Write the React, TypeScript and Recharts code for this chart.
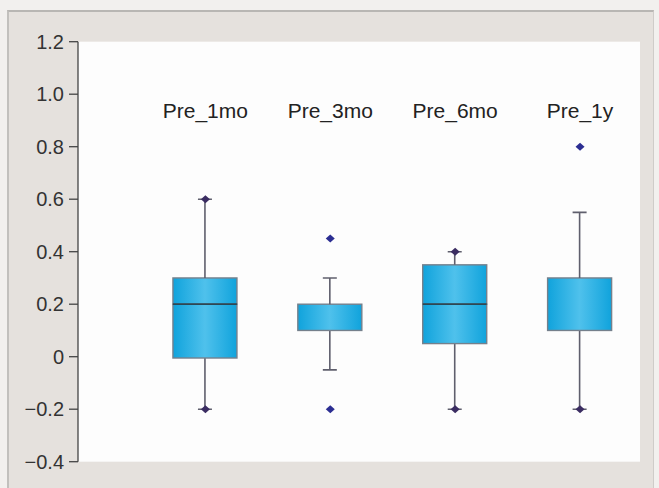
import React from 'react';
import { ComposedChart, Bar, Scatter, XAxis, YAxis, CartesianGrid } from 'recharts';

const categories = ['Pre_1mo', 'Pre_3mo', 'Pre_6mo', 'Pre_1y'];
const positions = [1, 2, 3, 4];
const whiskerLow = [-0.2, -0.05, -0.2, -0.2];
const quartile1 = [-0.005, 0.1, 0.05, 0.1];
const medians = [0.2, 0.2, 0.2, 0.3];
const quartile3 = [0.3, 0.2, 0.35, 0.3];
const whiskerHigh = [0.6, 0.3, 0.4, 0.55];
const endPoints = [[0.6, -0.2], [], [0.4, -0.2], [-0.2]];
const outliers = [[], [0.45, -0.2], [], [0.8]];
const yTicks = [-0.4, -0.2, 0, 0.2, 0.4, 0.6, 0.8, 1.0, 1.2];

// stacked segments: transparent base, lower whisker, lower box, upper box, upper whisker
const boxData = categories.map((name, i) => ({
  name,
  pos: positions[i],
  base: whiskerLow[i],
  lowWhisker: quartile1[i] - whiskerLow[i],
  lowBox: medians[i] - quartile1[i],
  highBox: quartile3[i] - medians[i],
  highWhisker: whiskerHigh[i] - quartile3[i],
}));

const endPointData = endPoints.flatMap((vals, i) => vals.map((value) => ({ pos: positions[i], value })));
const outlierData = outliers.flatMap((vals, i) => vals.map((value) => ({ pos: positions[i], value })));

const FONT = '"Liberation Sans", Arial, sans-serif';
const WHISKER = '#5f5f6d';
const BOX_STROKE = '#75808c';
const MEDIAN = '#2d4754';

const norm = (p: any) => {
  const top = Math.min(p.y, p.y + p.height);
  return { top, h: Math.abs(p.height), cx: p.x + p.width / 2 };
};

const LowWhisker = (p: any) => {
  const { top, h, cx } = norm(p);
  return (
    <g>
      <line x1={cx} x2={cx} y1={top} y2={top + h} stroke={WHISKER} strokeWidth={1.6} />
      <line x1={cx - 7} x2={cx + 7} y1={top + h} y2={top + h} stroke={WHISKER} strokeWidth={1.6} />
    </g>
  );
};

const HighWhisker = (p: any) => {
  const { top, h, cx } = norm(p);
  return (
    <g>
      <line x1={cx} x2={cx} y1={top} y2={top + h} stroke={WHISKER} strokeWidth={1.6} />
      <line x1={cx - 7} x2={cx + 7} y1={top} y2={top} stroke={WHISKER} strokeWidth={1.6} />
    </g>
  );
};

const LowBox = (p: any) => {
  const { top, h } = norm(p);
  if (h <= 0) return <g />;
  return <rect x={p.x} y={top} width={p.width} height={h} fill="url(#boxFill)" stroke={BOX_STROKE} strokeWidth={1.4} />;
};

const HighBox = (p: any) => {
  const { top, h } = norm(p);
  if (h <= 0) return <g />;
  return (
    <g>
      <rect x={p.x} y={top} width={p.width} height={h} fill="url(#boxFill)" stroke={BOX_STROKE} strokeWidth={1.4} />
      <line x1={p.x} x2={p.x + p.width} y1={top + h} y2={top + h} stroke={MEDIAN} strokeWidth={1.8} />
    </g>
  );
};

const Diamond = (color: string) => (p: any) => (
  <polygon
    points={`${p.cx},${p.cy - 4} ${p.cx + 4.5},${p.cy} ${p.cx},${p.cy + 4} ${p.cx - 4.5},${p.cy}`}
    fill={color}
  />
);

const renderCategoryTick = (p: any) => (
  <text x={p.x} y={p.y + 76} textAnchor="middle" fontSize={21} fontFamily={FONT} fill="#222">
    {categories[positions.indexOf(p.payload.value)]}
  </text>
);

const fmt = (v: number) => (v === 0 ? '0' : v.toFixed(1).replace('-', '\u2212'));

export default function App() {
  return (
    <div style={{ position: 'absolute', left: 0, top: 0, width: 659, height: 488, background: '#f2f0ee', overflow: 'hidden' }}>
      <div
        style={{
          position: 'absolute',
          left: 7,
          top: 10,
          width: 644,
          height: 480,
          background: '#e5e1dd',
          borderTop: '2px solid #b8b6b3',
          borderLeft: '2px solid #c2c0bd',
          borderRight: '1px solid #cfccc9',
        }}
      />
      <div style={{ position: 'absolute', left: 0, top: 0 }}>
        <ComposedChart
          width={659}
          height={488}
          data={boxData}
          stackOffset="none"
          margin={{ top: 40.7, right: 19, bottom: 26.3, left: 0 }}
        >
          <defs>
            <linearGradient id="boxFill" x1="0" y1="0" x2="1" y2="0">
              <stop offset="0%" stopColor="#10a3dc" />
              <stop offset="50%" stopColor="#4fc1ec" />
              <stop offset="100%" stopColor="#10a3dc" />
            </linearGradient>
          </defs>
          <CartesianGrid horizontal={false} vertical={false} fill="#fdfdfd" />
          <XAxis
            dataKey="pos"
            type="number"
            orientation="top"
            domain={[-0.02, 4.48]}
            ticks={positions}
            height={1}
            axisLine={false}
            tickLine={false}
            tickSize={0}
            tickMargin={0}
            tick={renderCategoryTick}
            interval={0}
            allowDataOverflow
          />
          <YAxis
            type="number"
            domain={[-0.4, 1.2]}
            ticks={yTicks}
            width={78}
            tickFormatter={fmt}
            tickSize={9}
            tickMargin={5}
            axisLine={{ stroke: '#444', strokeWidth: 1.3 }}
            tickLine={{ stroke: '#444', strokeWidth: 1.3 }}
            tick={{ fontSize: 20, fill: '#333', fontFamily: FONT }}
            allowDataOverflow
          />
          <Bar dataKey="base" stackId="box" barSize={64} fill="none" isAnimationActive={false} />
          <Bar dataKey="lowWhisker" stackId="box" barSize={64} shape={<LowWhisker />} isAnimationActive={false} />
          <Bar dataKey="lowBox" stackId="box" barSize={64} shape={<LowBox />} isAnimationActive={false} />
          <Bar dataKey="highBox" stackId="box" barSize={64} shape={<HighBox />} isAnimationActive={false} />
          <Bar dataKey="highWhisker" stackId="box" barSize={64} shape={<HighWhisker />} isAnimationActive={false} />
          <Scatter data={endPointData} dataKey="value" shape={Diamond('#3b2d62')} isAnimationActive={false} />
          <Scatter data={outlierData} dataKey="value" shape={Diamond('#2c2e92')} isAnimationActive={false} />
        </ComposedChart>
      </div>
    </div>
  );
}
